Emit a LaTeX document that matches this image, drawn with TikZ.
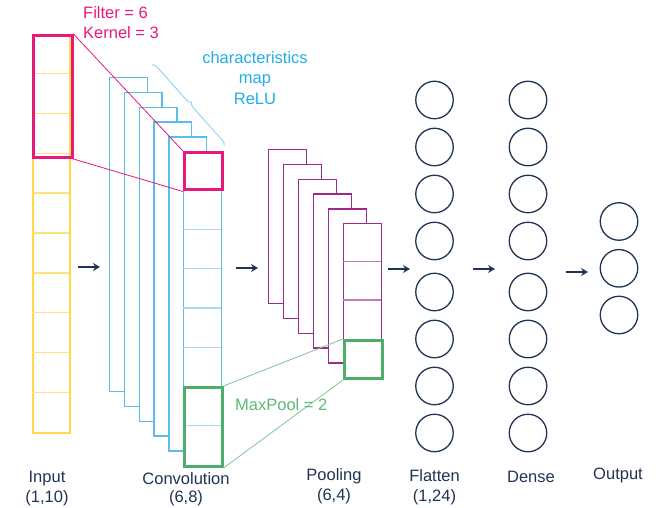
\documentclass[tikz,border=0pt]{standalone}
\usepackage{fontspec}
\setmainfont{Liberation Sans}
\usetikzlibrary{arrows.meta,decorations.pathreplacing}
\definecolor{yel}{HTML}{FFD94A}
\definecolor{yelcell}{HTML}{FFE27A}
\definecolor{cblue}{HTML}{5BBBEA}
\definecolor{cbluecell}{HTML}{A9DAF2}
\definecolor{bracec}{HTML}{8FD0F0}
\definecolor{pinkc}{HTML}{E8197C}
\definecolor{purp}{HTML}{9C2A8E}
\definecolor{purpcell}{HTML}{C277B6}
\definecolor{grn}{HTML}{4DAE6C}
\definecolor{grntext}{HTML}{5CB878}
\definecolor{navy}{HTML}{1F3355}
\definecolor{tblue}{HTML}{22ADE6}
\tikzset{
  box/.style={draw, fill=white, line width=1.4pt, minimum width=#1, inner sep=0pt, anchor=north west},
  convbox/.style={box=37.5pt, draw=cblue, minimum height=314pt},
  poolbox/.style={box=37.5pt, draw=purp, minimum height=154pt},
  kbox/.style={draw=pinkc, line width=3pt, inner sep=0pt, anchor=north west, minimum width=38pt},
  gbox/.style={draw=grn, line width=3pt, inner sep=0pt, anchor=north west, minimum width=38pt},
  neuron/.style={circle, draw=navy, line width=1.3pt, minimum size=37.5pt, inner sep=0pt},
  lbl/.style={text=navy, font=\fontsize{16.5pt}{20pt}\selectfont, align=center, inner sep=0pt},
  flow/.style={draw=navy, line width=2.4pt, -{Stealth[length=7pt,width=8pt]}},
  thinpink/.style={draw=pinkc, line width=0.8pt},
  thingrn/.style={draw=grntext!80, line width=0.8pt}
}
\begin{document}
\begin{tikzpicture}[x=1pt,y=-1pt]
\useasboundingbox (0,0) rectangle (659,508);
% Input column
\node[box=37pt, draw=yel, minimum height=398pt, line width=1.6pt] (input) at (32,34) {};
\foreach \k in {1,...,9}{\draw[yelcell, line width=1.4pt] (32,34+39.8*\k) -- (69,34+39.8*\k);}
\node[kbox, minimum width=39pt, minimum height=122pt] (kin) at (31.5,34) {};
% Convolution stack
\foreach \i in {0,...,5}{
  \node[convbox] (conv\i) at (109+14.8*\i,77+14.8*\i) {};
}
\foreach \k in {1,...,7}{\draw[cbluecell, line width=1.4pt] (183,151+39.25*\k) -- (220.5,151+39.25*\k);}
\node[kbox, minimum height=37.5pt] (kconv) at (183,151) {};
\node[gbox, minimum height=79pt] (gconv) at (182.5,386) {};
% Pooling stack
\foreach \i in {0,...,5}{
  \node[poolbox] (pool\i) at (268+15*\i,149+14.8*\i) {};
}
\foreach \k in {1,2}{\draw[purpcell, line width=1.2pt] (343,223+38.5*\k) -- (380.5,223+38.5*\k);}
\node[gbox, minimum height=38pt] (gpool) at (343,339) {};
% Connector lines
\draw[thinpink] (kin.north east) -- (kconv.north west);
\draw[thinpink] (kin.south east) -- (kconv.south west);
\draw[thingrn] (gconv.north east) -- (gpool.north west);
\draw[thingrn] (gconv.south east) -- (gpool.south west);
% Brace
\coordinate (braceA) at (224,146);
\coordinate (braceB) at (152,65);
\draw[bracec, line width=0.9pt, decorate, decoration={brace, amplitude=5pt}] (braceB) -- (braceA);
% Texts
\node[text=pinkc, font=\fontsize{16.5pt}{20pt}\selectfont, align=left, anchor=west, inner sep=0pt] (filt) at (83,13) {Filter = 6};
\node[text=pinkc, font=\fontsize{16.5pt}{20pt}\selectfont, align=left, anchor=west, inner sep=0pt] (kern) at (83,33) {Kernel = 3};
\node[text=tblue, font=\fontsize{16.5pt}{20.5pt}\selectfont, align=center, inner sep=0pt] (charmap) at (255,78) {characteristics\\map\\ReLU};
\node[text=grntext, font=\fontsize{16.5pt}{20pt}\selectfont, anchor=west, inner sep=0pt] (mp) at (235,405) {MaxPool = 2};
% Neurons
\foreach \j/\y in {1/100,2/147,3/194,4/241,5/292,6/339,7/386,8/433}{
  \node[neuron] (fl\j) at (434.5,\y) {};
  \node[neuron] (de\j) at (528,\y) {};
}
\foreach \j/\y in {1/221.5,2/268.3,3/315}{
  \node[neuron] (out\j) at (619,\y) {};
}
% Flow arrows
\coordinate (a1s) at (78,267); \coordinate (a1e) at (100,267);
\coordinate (a2s) at (236,268); \coordinate (a2e) at (258,268);
\coordinate (a3s) at (388,269); \coordinate (a3e) at (410,269);
\coordinate (a4s) at (473,269); \coordinate (a4e) at (495,269);
\coordinate (a5s) at (566,272); \coordinate (a5e) at (588,272);
\draw[flow] (a1s) -- (a1e);
\draw[flow] (a2s) -- (a2e);
\draw[flow] (a3s) -- (a3e);
\draw[flow] (a4s) -- (a4e);
\draw[flow] (a5s) -- (a5e);
% Labels
\node[lbl] (linput) at (47,479) {Input};
\node[lbl] (linput2) at (47,498) {(1,10)};
\node[lbl] (lconv) at (186,479) {Convolution};
\node[lbl] (lconv2) at (186,498) {(6,8)};
\node[lbl] (lpool) at (334,476) {Pooling};
\node[lbl] (lpool2) at (334,496) {(6,4)};
\node[lbl] (lflat) at (434.5,476) {Flatten};
\node[lbl] (lflat2) at (434.5,497) {(1,24)};
\node[lbl] (ldense) at (531,477) {Dense};
\node[lbl] (lout) at (618,475) {Output};
\end{tikzpicture}
\end{document}
